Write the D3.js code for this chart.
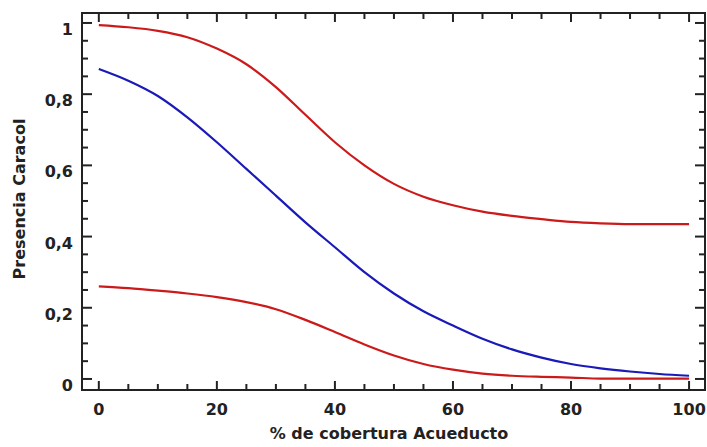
<!DOCTYPE html>
<html>
<head>
<meta charset="utf-8">
<script src="https://cdn.jsdelivr.net/npm/d3@7"></script>
<style>
  body { margin: 0; background: #fff; }
  text { font-family: "DejaVu Sans", Arial, sans-serif; font-weight: bold; fill: #222; }
</style>
</head>
<body>
<div class="canvas"></div>
<script>
// data
const cobertura = [0, 5, 10, 15, 20, 25, 30, 35, 40, 45, 50, 55, 60, 65, 70, 75, 80, 85, 90, 95, 100];
const ajuste   = [0.871, 0.838, 0.795, 0.735, 0.665, 0.59, 0.515, 0.44, 0.37, 0.30, 0.24, 0.19, 0.15, 0.113, 0.083, 0.06, 0.042, 0.03, 0.021, 0.014, 0.009];
const limSup   = [0.994, 0.988, 0.978, 0.96, 0.928, 0.884, 0.82, 0.742, 0.665, 0.60, 0.548, 0.512, 0.488, 0.47, 0.458, 0.449, 0.441, 0.437, 0.435, 0.435, 0.435];
const limInf   = [0.26, 0.255, 0.248, 0.24, 0.23, 0.216, 0.196, 0.166, 0.132, 0.097, 0.066, 0.042, 0.026, 0.015, 0.009, 0.006, 0.004, 0.001, 0.001, 0.001, 0.001];
const xTicks = [0, 20, 40, 60, 80, 100];
const yTicks = [0, 0.2, 0.4, 0.6, 0.8, 1];

const dims = {width: 707, height: 447};
const frame = {left: 82, right: 705, top: 13, bottom: 390};

const svg = d3.select('.canvas')
    .append('svg')
    .attr('width', dims.width)
    .attr('height', dims.height);

const x = d3.scaleLinear().domain([-2.85, 102.7]).range([frame.left, frame.right]);
const y = d3.scaleLinear().domain([-0.031, 1.028]).range([frame.bottom, frame.top]);

const fmt = d => d === 0 ? '0' : d === 1 ? '1' : d3.format('.1f')(d).replace('.', ',');

// frame
svg.append('rect')
    .attr('x', frame.left).attr('y', frame.top)
    .attr('width', frame.right - frame.left)
    .attr('height', frame.bottom - frame.top)
    .attr('fill', 'none')
    .attr('stroke', '#222')
    .attr('stroke-width', 2);

// ticks, pointing inwards on all four sides
const xMinor = d3.range(0, 101, 5);
const yMinor = d3.range(0, 1.001, 0.05);
const ticks = svg.append('g').attr('stroke', '#222').attr('stroke-width', 2);

xMinor.forEach(v => {
    const len = v % 20 === 0 ? 9 : 6;
    ticks.append('line').attr('x1', x(v)).attr('x2', x(v))
        .attr('y1', frame.bottom).attr('y2', frame.bottom - len);
    ticks.append('line').attr('x1', x(v)).attr('x2', x(v))
        .attr('y1', frame.top).attr('y2', frame.top + len);
});
yMinor.forEach((v, i) => {
    const len = i % 4 === 0 ? 10 : 6;
    ticks.append('line').attr('y1', y(v)).attr('y2', y(v))
        .attr('x1', frame.left).attr('x2', frame.left + len);
    ticks.append('line').attr('y1', y(v)).attr('y2', y(v))
        .attr('x1', frame.right).attr('x2', frame.right - len);
});

// tick labels
svg.append('g').selectAll('text')
    .data(xTicks).enter().append('text')
    .attr('x', d => x(d))
    .attr('y', 415)
    .attr('text-anchor', 'middle')
    .attr('font-size', 16)
    .text(d => d);

svg.append('g').selectAll('text')
    .data(yTicks).enter().append('text')
    .attr('x', 73)
    .attr('y', d => y(d) + 12)
    .attr('text-anchor', 'end')
    .attr('font-size', 16)
    .text(fmt);

// axis titles
svg.append('text')
    .attr('x', 389).attr('y', 439)
    .attr('text-anchor', 'middle')
    .attr('font-size', 16)
    .text('% de cobertura Acueducto');

svg.append('text')
    .attr('transform', 'translate(25,199) rotate(-90)')
    .attr('text-anchor', 'middle')
    .attr('font-size', 16)
    .text('Presencia Caracol');

// curves
const line = vals => d3.line()
    .x((d, i) => x(cobertura[i]))
    .y(d => y(d))
    .curve(d3.curveMonotoneX)(vals);

const series = [
    {vals: limSup, colour: '#cc1a1a'},
    {vals: limInf, colour: '#cc1a1a'},
    {vals: ajuste, colour: '#1a1ab8'}
];

svg.append('g').selectAll('path')
    .data(series).enter().append('path')
    .attr('fill', 'none')
    .attr('stroke', d => d.colour)
    .attr('stroke-width', 2.2)
    .attr('d', d => line(d.vals));
</script>
</body>
</html>
